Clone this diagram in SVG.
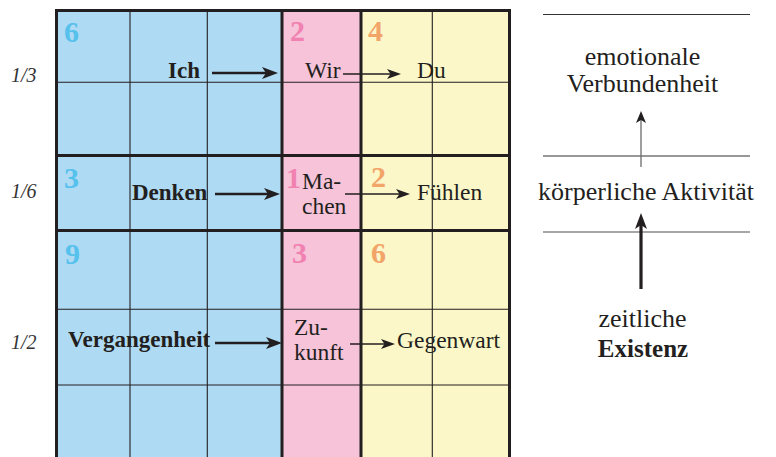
<svg xmlns="http://www.w3.org/2000/svg" width="776" height="457" viewBox="0 0 776 457">
<style>
text{font-family:"Liberation Serif","Times New Roman",serif;fill:#231f20}
.lab{font-size:23.5px}
.bl{font-size:23px;font-weight:bold}
.num{font-size:30px;font-weight:bold}
.frac{font-size:20px;font-style:italic;fill:#333}
.rs{font-size:26px;text-anchor:middle}
.rsb{font-size:25px;font-weight:bold;text-anchor:middle}
.nb{fill:#56c1ec}.np{fill:#f081b0}.no{fill:#f2a469}
.thick{stroke:#231f20;stroke-width:3;fill:none}
.thin{stroke:#231f20;stroke-width:1.1;fill:none}
.arT{stroke:#231f20;stroke-width:2.5;fill:none}
.arS{stroke:#231f20;stroke-width:1.3;fill:none}
.rl{stroke:#333;stroke-width:1.2}
</style>
<defs>
<marker id="hT" markerUnits="userSpaceOnUse" viewBox="0 0 16 12" refX="8" refY="6" markerWidth="16" markerHeight="12" orient="auto">
<path d="M0,0 L16,6 L0,12 L4,6 Z" fill="#231f20"/>
</marker>
<marker id="hS" markerUnits="userSpaceOnUse" viewBox="0 0 14 10" refX="7" refY="5" markerWidth="14" markerHeight="10" orient="auto">
<path d="M0,0 L14,5 L0,10 L3.5,5 Z" fill="#231f20"/>
</marker>
<marker id="hG" markerUnits="userSpaceOnUse" viewBox="0 0 12 10" refX="6" refY="5" markerWidth="12" markerHeight="10" orient="auto">
<path d="M0,0 L12,5 L0,10 L3,5 Z" fill="#231f20"/>
</marker>
</defs>
<rect width="776" height="457" fill="#ffffff"/>
<g id="grid">
<rect x="56.5" y="10.5" width="225.5" height="452" fill="#aedaf3"/>
<rect x="282" y="10.5" width="79" height="452" fill="#f6c3d8"/>
<rect x="361" y="10.5" width="148.5" height="452" fill="#fbf7c8"/>
<path class="thin" d="M130,10 V462 M207.3,10 V462 M432.3,10 V462 M57,82.3 H509 M57,309.3 H509 M57,385 H509"/>
<path class="thick" d="M282,10 V462 M361,10 V462 M56.5,155.5 H509.5 M56.5,230.5 H509.5"/>
<rect class="thick" x="56.5" y="10.5" width="453" height="452"/>
</g>
<g id="fractions">
<text class="frac" x="11" y="82">1/3</text>
<text class="frac" x="11" y="198">1/6</text>
<text class="frac" x="11" y="349">1/2</text>
</g>
<g id="numbers">
<text class="num nb" x="64" y="42">6</text>
<text class="num np" x="290" y="41">2</text>
<text class="num no" x="368" y="41">4</text>
<text class="num nb" x="64" y="188">3</text>
<text class="num np" x="286" y="188">1</text>
<text class="num no" x="371" y="187">2</text>
<text class="num nb" x="65" y="264">9</text>
<text class="num np" x="292" y="263">3</text>
<text class="num no" x="371" y="263">6</text>
</g>
<g id="node-ich"><text class="bl" x="168" y="78">Ich</text></g>
<g id="node-wir"><text class="lab" x="305" y="78">Wir</text></g>
<g id="node-du"><text class="lab" x="417" y="78">Du</text></g>
<g id="node-denken"><text class="bl" x="132" y="200">Denken</text></g>
<g id="node-machen"><text class="lab" x="302" y="189">Ma-</text><text class="lab" x="302" y="214">chen</text></g>
<g id="node-fuehlen"><text class="lab" x="417" y="200">Fühlen</text></g>
<g id="node-vergangenheit"><text class="bl" x="68" y="347">Vergangenheit</text></g>
<g id="node-zukunft"><text class="lab" x="294" y="335">Zu-</text><text class="lab" x="294" y="360">kunft</text></g>
<g id="node-gegenwart"><text class="lab" x="397" y="348">Gegenwart</text></g>
<g id="node-emotional"><text class="rs" x="642.5" y="65">emotionale</text><text class="rs" x="642.5" y="92">Verbundenheit</text></g>
<g id="node-koerperlich"><text class="rs" x="646" y="200">körperliche Aktivität</text></g>
<g id="node-zeitlich"><text class="rs" x="642.5" y="327">zeitliche</text><text class="rsb" x="643" y="357">Existenz</text></g>
<g id="levels">
<line class="rl" x1="543" y1="14.5" x2="750" y2="14.5"/>
<line class="rl" x1="543" y1="156" x2="750" y2="156"/>
<line x1="543" y1="232" x2="750" y2="232" stroke="#8a8a8a" stroke-width="1.5"/>
</g>
<g id="connectors">
<line class="arT" x1="212" y1="73" x2="270" y2="73" marker-end="url(#hT)"/>
<line class="arS" x1="343" y1="74" x2="394" y2="74" marker-end="url(#hS)"/>
<line class="arT" x1="215" y1="194" x2="272" y2="194" marker-end="url(#hT)"/>
<line class="arS" x1="345" y1="194" x2="403" y2="194" marker-end="url(#hS)"/>
<line class="arT" x1="215" y1="343" x2="274" y2="343" marker-end="url(#hT)"/>
<line class="arS" x1="350" y1="344" x2="388" y2="344" marker-end="url(#hS)"/>
<line x1="641" y1="167" x2="641" y2="117" stroke="#6a6a6a" stroke-width="1.3" marker-end="url(#hG)"/>
<line x1="641" y1="289" x2="641" y2="221" stroke="#231f20" stroke-width="3.2" marker-end="url(#hT)"/>
</g>
</svg>
